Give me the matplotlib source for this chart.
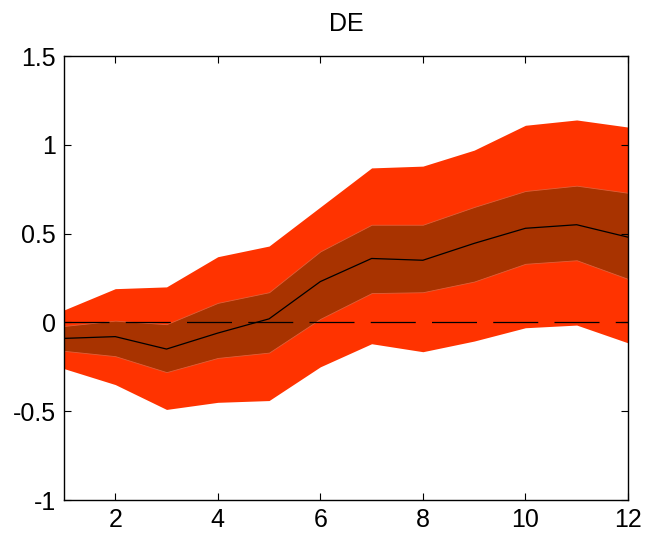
import matplotlib
matplotlib.use("Agg")
import matplotlib.pyplot as plt
import numpy as np

plt.rcParams['font.family'] = ['Liberation Sans', 'DejaVu Sans']

horizon = [1, 2, 3, 4, 5, 6, 7, 8, 9, 10, 11, 12]
outer_upper = [0.07, 0.19, 0.20, 0.37, 0.43, 0.65, 0.87, 0.88, 0.97, 1.11, 1.14, 1.10]
inner_upper = [-0.02, 0.01, -0.01, 0.11, 0.17, 0.40, 0.55, 0.55, 0.65, 0.74, 0.77, 0.73]
median = [-0.09, -0.08, -0.15, -0.06, 0.02, 0.23, 0.36, 0.35, 0.445, 0.53, 0.55, 0.48]
inner_lower = [-0.16, -0.19, -0.28, -0.20, -0.17, 0.02, 0.165, 0.17, 0.23, 0.33, 0.35, 0.245]
outer_lower = [-0.26, -0.35, -0.49, -0.45, -0.44, -0.25, -0.12, -0.165, -0.105, -0.03, -0.015, -0.115]

fig = plt.figure(figsize=(6.45, 5.35), dpi=100)
ax = fig.add_axes([0.0992, 0.0654, 0.8744, 0.8299])

ax.fill_between(horizon, outer_lower, outer_upper, color='#FF3300', linewidth=0)
ax.fill_between(horizon, inner_lower, inner_upper, color='#A83300', linewidth=0.6, edgecolor='#E0603A')
ax.plot(horizon, median, color='black', lw=0.9)
ax.axhline(0, color='black', lw=0.9, ls=(0, (36, 13)))

ax.set_xlim(1, 12)
ax.set_ylim(-1, 1.5)
ax.set_xticks([2, 4, 6, 8, 10, 12])
ax.set_yticks([-1, -0.5, 0, 0.5, 1, 1.5])
ax.set_yticklabels(['-1', '-0.5', '0', '0.5', '1', '1.5'])
ax.tick_params(direction='in', top=True, right=True, labelsize=18, length=5, width=0.8, pad=6)
for s in ax.spines.values():
    s.set_linewidth(1.0)
ax.set_title('DE', fontsize=18, pad=18)

fig.savefig('out.png', dpi=100)
